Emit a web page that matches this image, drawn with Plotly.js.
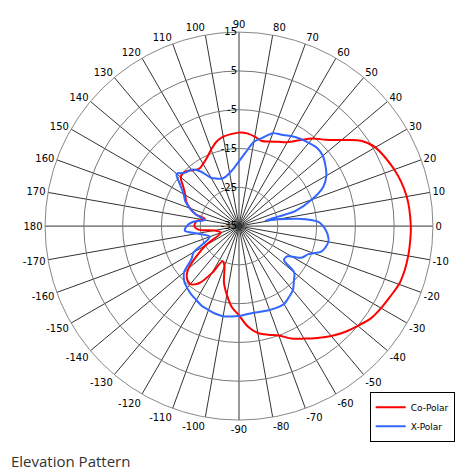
<!DOCTYPE html>
<html>
<head>
<meta charset="utf-8">
<script src="https://cdn.plot.ly/plotly-3.0.1.min.js"></script>
<style>html,body{margin:0;padding:0;background:#fff;}#chart{width:457px;height:473px;}</style>
</head>
<body>
<div id="chart"></div>
<script>
// Angular tick positions and labels
const angleTickVals = [0,10,20,30,40,50,60,70,80,90,100,110,120,130,140,150,160,170,180,190,200,210,220,230,240,250,260,270,280,290,300,310,320,330,340,350];
const angleTickText = ['0','10','20','30','40','50','60','70','80','90','100','110','120','130','140','150','160','170','180','-170','-160','-150','-140','-130','-120','-110','-100','-90','-80','-70','-60','-50','-40','-30','-20','-10'];
// Radial ticks (dB)
const radialTickVals = [15,5,-5,-15,-25,-35];
const radialTickText = ['15','5','-5','-15','-25','-35'];

// Co-Polar (dB vs angle, degrees)
const coTheta = [0,10,20,30,35,40,45,50,55,60,65,70,75,80,85,90,95,100,105,110,115,120,125,130,135,140,145,150,155,160,165,168,173,180,185,190,200,210,220,225,230,235,240,245,250,255,260,265,270,275,280,285,290,295,300,305,310,315,320,325,330,335,340,345,350,355,360];
const coR     = [9.3,8.9,7.6,5.6,3.4,-0.5,-3.5,-5.5,-8,-10,-11,-11.8,-12.3,-11.6,-11,-10.9,-11.2,-11.6,-12.5,-14,-15.5,-16.5,-17,-16.2,-15.2,-15.4,-17.5,-19,-20,-21.5,-23.5,-26,-24,-23.5,-24.5,-28.5,-30,-25,-18,-16,-15.5,-17,-21,-25,-24,-20,-17,-14,-12,-9,-7,-6,-5,-3,-1.5,0.2,2,3.6,5,6.5,7.3,8,8.9,9.2,9.3,9.3,9.3];

// X-Polar (dB vs angle, degrees)
const xTheta = [0,3,7,10,12,15,20,25,30,35,40,45,50,55,60,65,70,75,80,85,90,95,100,105,110,115,120,125,130,135,140,145,150,155,160,165,170,175,180,185,190,200,210,215,220,225,230,235,240,245,250,255,260,265,270,275,280,285,290,295,300,305,310,315,320,323,328,333,338,343,350,355,360];
const xR     = [-13.3,-14.5,-19.7,-25,-28,-20,-15,-11,-9,-7.8,-6.8,-6.5,-7,-7.5,-8.2,-9,-9.5,-11.4,-13,-16,-18.3,-20,-21.1,-21.8,-22,-21.5,-20.6,-17.8,-16,-15.5,-14,-16.5,-18.5,-19.7,-21.5,-23.5,-26,-23,-21.5,-21,-24,-27,-21.5,-20,-16.5,-15,-14.2,-13.5,-13,-12.3,-12,-11.6,-11.4,-11.6,-11.8,-12.2,-12.3,-12.2,-12,-11.8,-11.8,-12.6,-13.4,-15,-16.4,-20.5,-20.3,-17,-15.7,-12.7,-11.6,-12.1,-13.3];

const traces = [
  {type:'scatterpolar', mode:'lines', name:'Co-Polar', theta:coTheta, r:coR,
   line:{color:'#ff0000', width:2, shape:'spline', smoothing:0.8}},
  {type:'scatterpolar', mode:'lines', name:'X-Polar', theta:xTheta, r:xR,
   line:{color:'#3366ff', width:2, shape:'spline', smoothing:0.8}}
];

const layout = {
  width:457, height:473,
  margin:{l:0,r:0,t:0,b:0},
  paper_bgcolor:'#fff',
  showlegend:true,
  legend:{x:0.995, y:0.066, xanchor:'right', yanchor:'bottom',
    bordercolor:'#000', borderwidth:1, bgcolor:'#fff',
    font:{family:'DejaVu Sans, Verdana, sans-serif', size:9, color:'#000'},
    itemwidth:30, tracegroupgap:4},
  polar:{
    domain:{x:[0.0985,0.9475], y:[0.112,0.932]},
    bgcolor:'#fff',
    angularaxis:{
      direction:'counterclockwise', rotation:0,
      tickmode:'array', tickvals:angleTickVals, ticktext:angleTickText,
      showgrid:true, gridcolor:'#333', gridwidth:1,
      showline:true, linecolor:'#888', linewidth:1,
      ticks:'', tickfont:{family:'DejaVu Sans, Verdana, sans-serif', size:10, color:'#000'}
    },
    radialaxis:{
      range:[-35,15], angle:90, side:'counterclockwise',
      tickmode:'array', tickvals:radialTickVals, ticktext:radialTickText,
      tickangle:90,
      showgrid:true, gridcolor:'#777', gridwidth:1,
      showline:false, ticks:'',
      tickfont:{family:'DejaVu Sans, Verdana, sans-serif', size:10, color:'#000'}
    }
  },
  annotations:[
    {text:'Elevation Pattern', xref:'paper', yref:'paper', x:0.02, y:0.025,
     xanchor:'left', yanchor:'middle', showarrow:false,
     font:{family:'Open Sans, sans-serif', size:15, color:'#333'}}
  ]
};

Plotly.newPlot('chart', traces, layout, {displayModeBar:false, staticPlot:true});
</script>
</body>
</html>
